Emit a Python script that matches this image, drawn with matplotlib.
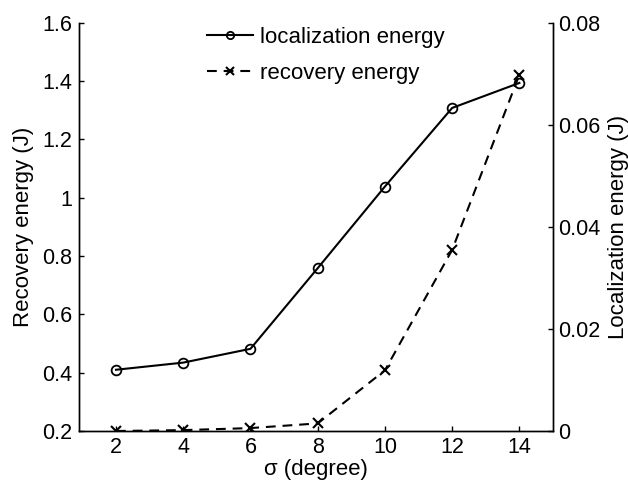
import numpy as np
import matplotlib
matplotlib.use('Agg')
import matplotlib.pyplot as plt
from matplotlib.ticker import FixedLocator, FormatStrFormatter

plt.rcParams['font.family'] = ['Liberation Sans', 'DejaVu Sans']
plt.rcParams['font.size'] = 16

sigma = [2, 4, 6, 8, 10, 12, 14]
# recovery energy (J), left axis
recovery = [0.200, 0.203, 0.210, 0.226, 0.408, 0.821, 1.422]
# localization energy (J), right axis
localization = [0.0120, 0.0134, 0.0161, 0.0319, 0.0479, 0.0633, 0.0682]

left_ticks = [0.2, 0.4, 0.6, 0.8, 1.0, 1.2, 1.4, 1.6]
right_ticks = [0, 0.02, 0.04, 0.06, 0.08]
x_ticks = [2, 4, 6, 8, 10, 12, 14]

fig = plt.figure(figsize=(6.28, 4.84), dpi=100)
ax = fig.add_axes([0.1258, 0.1095, 0.7548, 0.8436])
ax2 = ax.twinx()

l2, = ax.plot(sigma, recovery, color='black', linestyle='--', linewidth=1.5,
              marker='x', markersize=7.5, markeredgewidth=1.5, dashes=(4.7, 3.3),
              label='recovery energy')
l1, = ax2.plot(sigma, localization, color='black', linestyle='-', linewidth=1.5,
               marker='o', markersize=7, markerfacecolor='none', markeredgewidth=1.3,
               label='localization energy')

ax.set_xlim(0.9, 15)
ax.set_ylim(0.2, 1.6)
ax2.set_ylim(0, 0.08)
ax.xaxis.set_major_locator(FixedLocator(x_ticks))
ax.yaxis.set_major_locator(FixedLocator(left_ticks))
ax.yaxis.set_major_formatter(FormatStrFormatter('%g'))
ax2.yaxis.set_major_locator(FixedLocator(right_ticks))
ax2.yaxis.set_major_formatter(FormatStrFormatter('%g'))

for a in (ax, ax2):
    a.spines['top'].set_visible(False)
    for s in a.spines.values():
        s.set_linewidth(1.0)
    a.tick_params(direction='in', length=3.5, width=1.0, labelsize=15.5)
ax.tick_params(axis='x', pad=4)
ax.tick_params(axis='y', right=False, pad=5)
ax2.tick_params(axis='y', pad=4)

ax.set_xlabel('σ (degree)', labelpad=1)
ax.set_ylabel('Recovery energy (J)', labelpad=6)
ax2.set_ylabel('Localization energy (J)', labelpad=5)

ax2.legend(handles=[l1, l2], loc='upper left', bbox_to_anchor=(207 / 628, 1 - 27 / 484),
           bbox_transform=fig.transFigure, borderaxespad=0, borderpad=0,
           frameon=False, handlelength=2.07, handletextpad=0.3, labelspacing=0.68,
           markerscale=0.75, fontsize=16)

fig.savefig('out.png', dpi=100)
